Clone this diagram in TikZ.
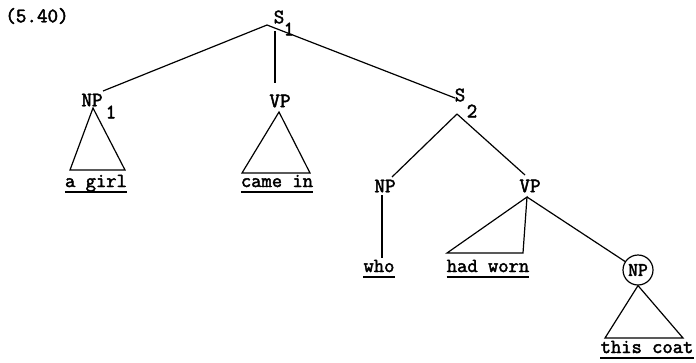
\documentclass[tikz,border=0pt]{standalone}
\usepackage{fontspec}
\newfontfamily\typew[FakeBold=2.2]{Latin Modern Mono}
\usetikzlibrary{calc}
\tikzset{
  lab/.style={font=\typew\fontsize{20.5}{20.5}\selectfont, inner sep=0pt},
  word/.style={font=\typew\fontsize{20}{20}\selectfont, inner sep=0pt, anchor=base},
  edge/.style={line width=1.2pt},
  uline/.style={line width=1.6pt},
  ring/.style={draw, circle, line width=1.2pt, minimum size=30pt, inner sep=0pt,
    font=\typew\fontsize{19}{19}\selectfont}
}
\begin{document}
\begin{tikzpicture}[x=1pt,y=-1pt]
\useasboundingbox (0,0) rectangle (696,362);
% number
\node[lab] (num) at (37,16) {(5.40)};
% labels
\node[lab] (S1) at (279,17) {S};
\node[lab] (S1s) at (289,29) {1};
\node[lab] (NP1) at (92,100) {NP};
\node[lab] (NP1s) at (111,112) {1};
\node[lab] (VP1) at (280,101) {VP};
\node[lab] (S2) at (460,95) {S};
\node[lab] (S2s) at (472,111) {2};
\node[lab] (NP2) at (385,186) {NP};
\node[lab] (VP2) at (530,186) {VP};
\node[ring] (NP3) at (638,270) {NP};
% words
\node[word] (w1) at (96,187) {a girl};
\node[word] (w2) at (277,187) {came in};
\node[word] (w3) at (379,272) {who};
\node[word] (w4) at (488,272) {had worn};
\node[word] (w5) at (647,353) {this coat};
% underlines
\foreach \w in {w1,w2,w3,w4,w5}
  \draw[uline] ($(\w.base west)+(0,5)$) -- ($(\w.base east)+(0,5)$);
% connector points
\coordinate (s1a) at (267,25);
\coordinate (s1b) at (275,31);
\coordinate (np1t) at (103,91);
\coordinate (vp1t) at (275,83);
\coordinate (s2t) at (455,98);
\coordinate (s2b) at (457,114);
\coordinate (np2t) at (392,177);
\coordinate (vp2t) at (525,175);
\coordinate (np2b) at (382,195);
\coordinate (whot) at (382,258);
\coordinate (vp2b) at (527,197);
% edges
\draw[edge] (s1a) -- (np1t);
\draw[edge] (s1b) -- (vp1t);
\draw[edge] (s1a) -- (s2t);
\draw[edge] (s2b) -- (np2t);
\draw[edge] (s2b) -- (vp2t);
\draw[edge] (np2b) -- (whot);
\draw[edge] (vp2b) -- (NP3);
% triangles
\draw[edge] (93,108) -- (70,170) -- (125,170) -- cycle;
\draw[edge] (279,112) -- (242,173) -- (310,173) -- cycle;
\draw[edge] (vp2b) -- (447,253) -- (523,253) -- cycle;
\draw[edge] (NP3.south) -- (605,338) -- (683,338) -- cycle;
\end{tikzpicture}
\end{document}
